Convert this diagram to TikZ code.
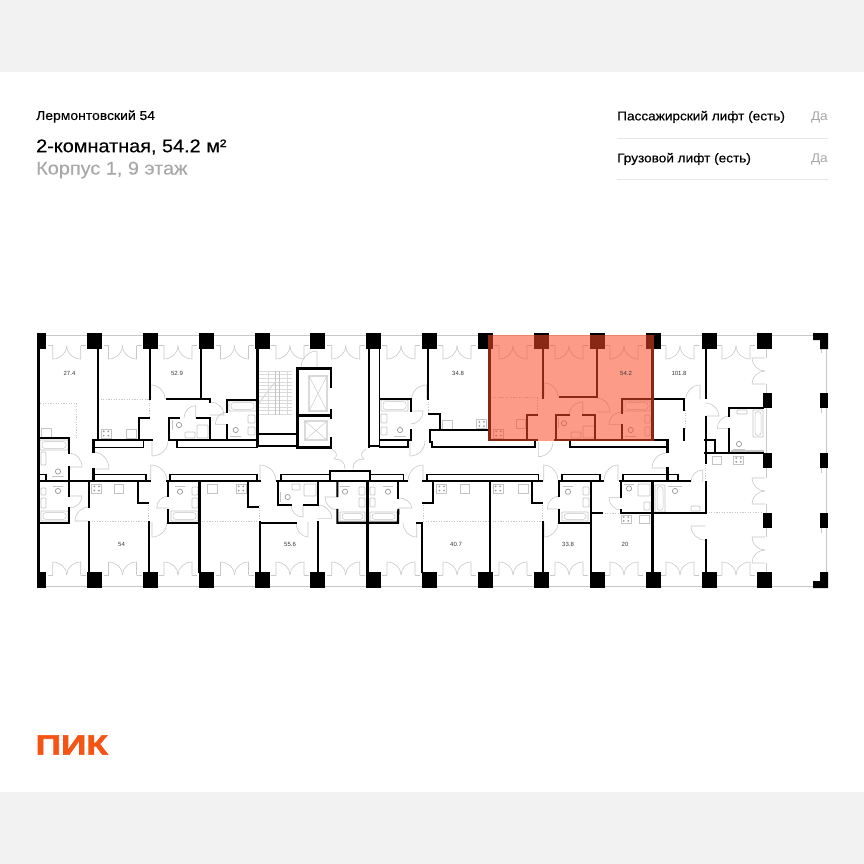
\documentclass[tikz,border=0pt]{standalone}
\usepackage{fontspec}
\setmainfont{Liberation Sans}
\newfontfamily\logofont[FakeBold=2.5,FakeStretch=1.26]{Liberation Sans Bold}
\newfontfamily\medfont[FakeBold=0.3,FakeStretch=1.08]{Liberation Sans}
\newfontfamily\regfont[FakeStretch=1.08]{Liberation Sans}
\usetikzlibrary{calc}
\definecolor{band}{HTML}{F2F2F2}
\definecolor{hair}{HTML}{C8C8C8}
\definecolor{fix}{HTML}{C4C4C4}
\definecolor{fixl}{HTML}{DADADA}
\definecolor{pik}{RGB}{250,73,37}
\definecolor{pikl}{RGB}{244,84,20}
\definecolor{txtgrey}{HTML}{A8A8A8}
\definecolor{rule}{HTML}{E6E6E6}
\tikzset{
 wa/.style={draw=black,line width=2.8pt,line join=miter,line cap=rect},
 wb/.style={draw=black,line width=2.1pt,line join=miter,line cap=rect},
 wt/.style={draw=black,line width=1.6pt,line join=miter,line cap=rect},
 drs/.style={draw=hair,line width=.6pt},
 fx/.style={draw=fix,line width=.7pt},
 kit/.style={draw=hair,line width=.5pt,dash pattern=on 1.2pt off 1.4pt},
 pil/.style={fill=black,draw=none},
 area/.style={font=\fontsize{6}{7}\selectfont,text=black!78,inner sep=0pt},
 lab/.style={anchor=west,inner sep=0pt},
}
\newcommand\dr[6]{\draw[drs] (#1,#2) -- (#3,#4) .. controls ($(#3,#4)+.55*(#5,#6)-.55*(#1,#2)$) and ($(#5,#6)+.55*(#3,#4)-.55*(#1,#2)$) .. (#5,#6);}
\newcommand\bathh[4]{\draw[fx,rounded corners=.6pt] (#1,#2) rectangle (#3,#4);\draw[fx,rounded corners=2.5pt,line width=.5pt] (#1+2,#2+1.7) rectangle (#3-2,#4-1.7);}
\begin{document}
\begin{tikzpicture}[x=1pt,y=-1pt]
\useasboundingbox (0,0) rectangle (864,864);
\fill[white] (0,0) rectangle (864,864);
\fill[band] (0,0) rectangle (864,72);
\fill[band] (0,792) rectangle (864,864);
% outer glazing
\draw[hair,line width=.9pt] (40,335) -- (826,335) -- (826,586) -- (40,586);
\foreach \y in {348,408,468,528}{\draw[hair,line width=.7pt] (821.5,\y) -- (821.5,\y+5);}
\draw[hair,line width=.8pt] (766,349) -- (766,358) (766,384) -- (766,393) (766,408) -- (766,453) (766,468) -- (766,478) (766,504) -- (766,513) (766,528) -- (766,537) (766,563) -- (766,572);
% balcony doors, top and bottom
\foreach \c in {66.7,122.5,178,234.5,290,345.7,401,457,513,569,624,680,736}{
 \draw[hair,line width=1pt] (\c-19,345.7) -- (\c-14,345.7) (\c+14,345.7) -- (\c+19,345.7);
 \dr{\c-14}{345.7}{\c-14}{359}{\c}{345.7}
 \dr{\c+14}{345.7}{\c+14}{359}{\c}{345.7}
 \draw[hair,line width=1pt] (\c-19,575) -- (\c-14,575) (\c+14,575) -- (\c+19,575);
 \dr{\c-14}{575}{\c-14}{562}{\c}{575}
 \dr{\c+14}{575}{\c+14}{562}{\c}{575}
}
% east side doors
\foreach \a in {358,478,537}{
 \dr{765}{\a}{752}{\a}{765}{\a+13}
 \dr{765}{\a+26}{752}{\a+26}{765}{\a+13}
}
% interior doors
\foreach \a/\b/\c/\d/\e/\f in {
150.7/399/150.7/385/165/399, 152/441/152/456/168/441, 195.7/418/195.7/405.7/184/418,
210/415/224/415/210/402, 227.3/424.3/215.3/424.3/227.3/412, 69.3/467/82/467/69.3/453,
93.3/469/109/469/93.3/452, 69.3/496/82/496/69.3/508, 89/521/75/521/89/507,
150.7/481/150.7/465/167/481, 168.3/508/156.7/508/168.3/496, 152/522/152/537/167/522,
260/481/260/465/276/481, 303/505/303/517/291/505, 317.7/518.3/331.7/518.3/317.7/505,
308/522/308/537/296/522, 337.3/497/325/497/337.3/510, 398.3/508/411.7/508/398.3/498,
416.7/522.7/416.7/537/403/522.7, 423/481/423/465/408/481, 317/368/317/351/301/368,
426.7/399/426.7/385/411.7/399, 410.7/411/423/411/410.7/424, 410/441/410/456/425/441,
544/397/544/383/558/397, 582.7/415/582.7/402/569/415, 597/412/610/412/597/398,
621.7/424.3/609/424.3/621.7/412, 538.3/441.7/538.3/456.7/553/441.7, 700/399/700/385/686/399,
705/416/719/416/705/403, 729.3/428.3/717.3/428.3/729.3/416, 667/468/652/468/667/453,
702.7/481.7/702.7/470/691/481.7, 705/526/691/526/705/540, 618/481/618/465/604/481,
621.3/497.7/609/497.7/621.3/510, 543.7/481/543.7/465/558/481, 559.3/509/547.3/509/559.3/496,
544/523/544/537/558/523}{\dr{\a}{\b}{\c}{\d}{\e}{\f}}
% lobby doors
\draw[drs] (332,449) .. controls (337,452) and (338,456) .. (334,459) .. controls (341,459) and (345,462) .. (345,469);
\draw[drs] (366,449) .. controls (361,452) and (360,456) .. (364,459) .. controls (357,459) and (353,462) .. (353,469);
% kitchen zone boundaries
\draw[kit] (40,403.7) -- (76.7,403.7) -- (76.7,438);
\draw[kit] (98,399) -- (149,399) -- (149,418);
\draw[kit] (89,521.7) -- (149,521.7) (148.7,505) -- (148.7,522);
\draw[kit] (199,521.7) -- (260,521.7) (259,505) -- (259,522);
\draw[kit] (423,521.7) -- (490,521.7) (423.5,505) -- (423.5,522);
\draw[kit] (490,521.7) -- (543,521.7) (542,505) -- (542,522);
\draw[kit] (602,513) -- (621,513);
\draw[kit] (490,397.7) -- (537,397.7) -- (537,415);
\draw[kit] (428,399) -- (428,414);
\draw[kit] (685,410) -- (685,429);
\draw[kit] (705,465) -- (705,482);
\draw[kit] (706,512.7) -- (763,512.7);
% stoves
\foreach \x/\y/\w/\h in {101/429/10/9,476.7/419.5/10/9,91.7/484/10/9,236/484/10/9,436.7/484/10/9,493/484/10/9,621/515/10/8,493.5/429/10/9,733.5/456/10/8}{
 \draw[fx] (\x,\y) rectangle (\x+\w,\y+\h);
 \foreach \i in {.27,.73}{\foreach \j in {.27,.73}{\fill[black!40] (\x+\i*\w,\y+\j*\h) circle (1pt);}}
}
% kitchen sinks
\foreach \x/\y/\w/\h in {41.7/428/10/9,126.7/429/9.5/9,442.7/420/10/9,114/484/9/9,207/484/10/9,460/484/9/9,518/484/10/9,639/515/10/8,516/419/9/9,712/456/9/8}{
 \draw[fx] (\x,\y) rectangle (\x+\w,\y+\h);
}
% baths
\foreach \a/\b/\c/\d in {40/440/68/450,229/401/256/411,41/511/68/521,171/511/198/521,340/512/365/521,370/512/397/521,381/400/408/411,623/401/650/411,562/512/588/521,655/485/665/512,753/410/763/437}{\bathh{\a}{\b}{\c}{\d}}
% toilets: bowl and bar
\foreach \x/\y/\p/\q/\r/\s in {58/471.5/52/476/64/476,58/491/53/486/63/486,179/425/172/420/172/430,235.7/430/230/436/241/436,180/491.7/175/486/185/486,345/491.7/340/486/350/486,388/491.7/383/486/393/486,287.7/497/280.5/492/280.5/502,400/430/394/436/406/436,564/423.3/558/418/558/428,630.7/430/625/436/636/436,568/491.7/563/486/573/486,629/488.5/624/484/634/484,675/491/668/486/682/486,739/444/733/449/745/449}{
 \draw[fx,draw=black!40] (\x,\y) circle (2.6pt);
 \draw[fx,line width=.9pt] (\p,\q) -- (\r,\s);
}
% basins and boxes
\foreach \a/\b/\c/\d in {41/452/46/465,41/488/46/495,41/498/46/508,185/432/195/438,197/425/208/438,248/415/255/423,248/427/255/435,292/484/300/490,304/484/316/496,359/487/365/495,359/498/365/507,370/487/375/495,370/498/375/507,192/487/198/495,192/498/198/508,381/414/387/423,381/427/387/435,571/432/581/438,583/426/595/438,645/415/650/423,645/427/650/436,583/487/589/495,583/498/589/507,638/484/650/496,644/502/650/510,691/506/700/511,737/410/747/414}{
 \draw[fx,rounded corners=.8pt] (\a,\b) rectangle (\c,\d);
}
\draw[fx] (731,450) rectangle (763,451.5);
% stairs
\foreach \y in {371,374.6,378.2,381.8,385.4,389,392.6,396.2,399.8,403.4,407,410.6,414.2}{\draw[fixl,line width=.5pt] (258.5,\y) -- (292,\y);}
\draw[fix,line width=.7pt] (275.7,371) -- (275.7,415) (279,371) -- (279,415);
\draw[fixl,line width=.5pt] (268,371) -- (268,415) (287.5,371) -- (287.5,415);
\draw[fixl,line width=1.1pt] (258,404) -- (276,381);
% lifts
\draw[fixl,line width=1.8pt] (309,376) rectangle (327,411);
\draw[fix,line width=.4pt] (309,376) -- (327,411) (327,376) -- (309,411);
\draw[fixl,line width=1.8pt] (305,421) rectangle (327,440);
\draw[fix,line width=.4pt] (305,421) -- (327,440) (327,421) -- (305,440);
% walls
\draw[wa] (38.2,349) -- (38.2,572);
\foreach \x in {98,489.3,652.7}{\draw[wa] (\x,349) -- (\x,440);}
\draw[wa] (257.3,349) -- (257.3,446);
\draw[wb] (150,349) -- (150,399) (200.7,349) -- (200.7,399) (166.7,399) -- (210,399) -- (210,402);
\draw[wb] (139,440) -- (139,418.3) -- (149,418.3);
\draw[wa] (93.3,452) -- (93.3,440) -- (152,440);
\draw[wt] (93.3,447.3) -- (143.3,447.3) -- (143.3,440);
\draw[wa] (169.3,440) -- (257,440);
\draw[wb] (169.3,440) -- (169.3,418.3) -- (179,418.3);
\draw[wb] (197,418.3) -- (210,418.3) -- (210,440);
\draw[wt] (177,440) -- (177,447.3) -- (257,447.3);
\draw[wb] (257,400) -- (227.3,400) -- (227.3,412) (227.3,425) -- (227.3,440);
\draw[wb] (39,438.3) -- (69.3,438.3) -- (69.3,453);
\draw[wb] (69.3,467) -- (69.3,481);
\draw[wa] (38,481) -- (150,481);
\draw[wa] (93.3,469) -- (93.3,481);
\draw[wt] (93.3,474.3) -- (146,474.3) -- (146,481);
\draw[wt] (40,474.3) -- (46,474.3) -- (46,481);
\draw[wb] (69.3,483) -- (69.3,496) (69.3,508) -- (69.3,522.7) -- (39,522.7);
\draw[wb] (89,481) -- (89,507) (89,522) -- (89,572);
\draw[wb] (137.7,483) -- (137.7,503.3) -- (148,503.3);
\draw[wb] (149.3,522) -- (149.3,572);
\draw[wa] (167,481) -- (260,481);
\draw[wt] (170,481) -- (170,474.3) -- (256.7,474.3) -- (256.7,481);
\draw[wb] (168.3,483) -- (168.3,496) (168.3,510) -- (168.3,522.7) -- (198,522.7);
\draw[wa] (199.3,481) -- (199.3,572);
\draw[wb] (248.3,483) -- (248.3,506.7) -- (258,506.7);
\draw[wb] (260,522) -- (260,572) (260,522.7) -- (296,522.7);
% stair block and lift shaft
\draw[wb] (257.3,434) -- (297,434);
\draw[wb] (257.3,445.7) -- (297,445.7);
\draw[wa] (297.7,447) -- (297.7,368.3) -- (331,368.3) -- (331,387);
\draw[wa] (297.7,415.7) -- (331,415.7);
\draw[wa] (331,410) -- (331,418) (331,438) -- (331,447.7) -- (297.7,447.7);
\draw[wa] (369,349) -- (369,447);
\draw[wt] (379.3,349) -- (379.3,445.7) -- (369,445.7);
\draw[wb] (380,399) -- (410.7,399) -- (410.7,411) (410.7,430) -- (410.7,440) -- (380,440);
\draw[wt] (380,446.7) -- (407.7,446.7) -- (407.7,440);
\draw[wb] (427.7,349) -- (427.7,399);
\draw[wb] (429,414.3) -- (440,414.3) -- (440,429);
\draw[wa] (430,442) -- (430,430) -- (488,430);
\draw[wt] (431.7,442) -- (431.7,447) -- (488,447);
% lower row
\draw[wa] (277,481) -- (329,481) (371,481) -- (407,481);
\draw[wt] (280.7,481) -- (280.7,474.3) -- (330,474.3);
\draw[wa] (330,481) -- (330,471) -- (370,471) -- (370,481) -- (330,481);
\draw[wt] (370,474.3) -- (403.3,474.3) -- (403.3,481);
\draw[wb] (278.3,481) -- (278.3,505) -- (291,505) (304,505) -- (317.7,505) -- (317.7,483);
\draw[wb] (317.7,522) -- (317.7,572);
\draw[wb] (337.3,483) -- (337.3,496) (337.3,510) -- (337.3,522.7) -- (398,522.7) -- (398.3,510);
\draw[wa] (367.3,481) -- (367.3,572);
\draw[wb] (398.3,498) -- (398.3,483);
\draw[wb] (417,522.7) -- (422.3,522.7) -- (422.3,572);
\draw[wb] (423,503.3) -- (433.3,503.3) -- (433.3,483);
\draw[wa] (423,481) -- (542,481);
\draw[wt] (427,481) -- (427,474.3) -- (538.3,474.3) -- (538.3,481);
\draw[wa] (490,481) -- (490,572);
\draw[wb] (531.7,483) -- (531.7,503) -- (542,503);
\draw[wb] (542.7,522) -- (542.7,572);
\draw[wb] (559.3,481) -- (559.3,496) (559.3,510) -- (559.3,522.7) -- (590,522.7);
\draw[wa] (559,481) -- (603,481);
\draw[wt] (562,481) -- (562,474.3) -- (600,474.3) -- (600,481);
\draw[wa] (591,481) -- (591,572);
\draw[wb] (591,512.7) -- (602,512.7);
\draw[wb] (621.3,483) -- (621.3,497) (621.3,510) -- (621.3,512.7) -- (706,512.7);
\draw[wa] (620,481) -- (690,481);
\draw[wt] (623,481) -- (623,474.3) -- (677.7,474.3) -- (677.7,481);
\draw[wa] (667.3,468) -- (667.3,481);
\draw[wa] (652.7,481) -- (652.7,572);
\draw[wb] (705.7,349) -- (705.7,398) (705.7,417) -- (705.7,463) (705.7,482) -- (705.7,513) (705.7,540) -- (705.7,572);
% highlighted flat walls
\draw[wb] (543.3,349) -- (543.3,397.7);
\draw[wb] (597.3,349) -- (597.3,396.7) -- (560,396.7);
\draw[wa] (489,440) -- (537,440);
\draw[wt] (480,447) -- (535,447) -- (535,440);
\draw[wb] (526.7,440) -- (526.7,415) -- (537,415);
\draw[wb] (569,415) -- (556,415) -- (556,440);
\draw[wb] (583,415) -- (595,415) -- (595,440);
\draw[wa] (555,440) -- (667,440);
\draw[wt] (570,440) -- (570,447) -- (667,447);
\draw[wb] (652,399) -- (621.7,399) -- (621.7,413) (621.7,425) -- (621.7,440);
\draw[wb] (653,399) -- (684.3,399) -- (684.3,410) (684.3,429) -- (684.3,440);
\draw[wa] (667.3,440) -- (667.3,452);
% east
\draw[wb] (763,407.7) -- (729.3,407.7) -- (729.3,416) (729.3,429) -- (729.3,453.3);
\draw[wb] (705,453.3) -- (763,453.3);
\draw[wt] (705,440) -- (715,440) -- (715,453);
% pillars
\foreach \c in {94.5,150.5,206.5,262,317.5,373.5,429.5,485.5,541,597.5,653,709,764.5}{
 \fill[pil] (\c-7.5,333) rectangle (\c+7.5,349);
 \fill[pil] (\c-7.5,572) rectangle (\c+7.5,588);
}
\fill[pil] (37,333) rectangle (46,349);
\fill[pil] (37,572) rectangle (46,588);
\foreach \y in {393,453,513}{
 \fill[pil] (763,\y) rectangle (772,\y+15);
 \fill[pil] (820,\y) rectangle (828,\y+15);
}
\fill[pil] (813,333) -- (828,333) -- (828,349) -- (820,349) -- (820,340) -- (813,340) -- cycle;
\fill[pil] (813,588) -- (828,588) -- (828,572) -- (820,572) -- (820,581) -- (813,581) -- cycle;
% highlighted flat
\fill[pik,opacity=.55] (488.3,335) rectangle (653.6,441);
% labels
\node[area] (a1) at (69.5,373) {27.4};
\node[area] (a2) at (177,373) {52.9};
\node[area] (a3) at (458,373) {34.8};
\node[area] (a4) at (626,373) {54.2};
\node[area] (a5) at (679,373) {101.8};
\node[area] (a6) at (121.5,544.5) {54};
\node[area] (a7) at (290,544.5) {55.6};
\node[area] (a8) at (456,544.5) {40.7};
\node[area] (a9) at (568,544.5) {33.8};
\node[area] (a10) at (625,544.5) {20};
% header
\node[lab,font=\medfont\fontsize{12.9}{14}\selectfont] (t1) at (36,116.5) {Лермонтовский 54};
\node[lab,font=\medfont\fontsize{18.4}{20}\selectfont] (t2) at (36,147) {2-комнатная, 54.2 м²};
\node[lab,font=\medfont\fontsize{18.4}{20}\selectfont,text=txtgrey] (t3) at (36,170) {Корпус 1, 9 этаж};
\node[lab,font=\medfont\fontsize{12.6}{14}\selectfont] (t4) at (617,117) {Пассажирский лифт (есть)};
\node[lab,font=\medfont\fontsize{12.6}{14}\selectfont] (t5) at (617,159) {Грузовой лифт (есть)};
\node[anchor=east,inner sep=0pt,font=\regfont\fontsize{12.6}{14}\selectfont,text=txtgrey] (t6) at (828,117) {Да};
\node[anchor=east,inner sep=0pt,font=\regfont\fontsize{12.6}{14}\selectfont,text=txtgrey] (t7) at (828,159) {Да};
\draw[rule,line width=1pt] (617,138) -- (828,138);
\draw[rule,line width=1pt] (617,179.5) -- (828,179.5);
% logo
\node[anchor=west,inner sep=0pt,text=pikl,font=\logofont\fontsize{28}{28}\selectfont] (logo) at (35.5,745) {ПИК};
\end{tikzpicture}
\end{document}
